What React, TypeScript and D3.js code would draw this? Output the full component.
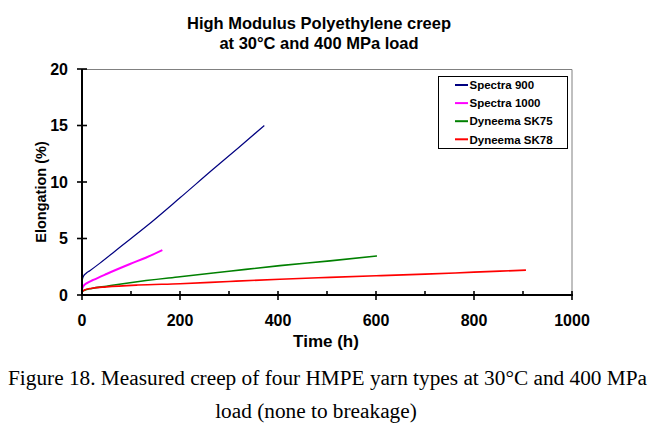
import React from "react";
import * as d3 from "d3";

// creep data: [time (h), elongation (%)]
const spectra900: [number, number][] = [
  [0, 1.1], [1, 1.4], [3, 1.65], [8, 1.9], [16, 2.15], [36, 2.8], [78, 4.25],
  [132, 6.1], [200, 8.6], [268, 11.15], [320, 13.05], [372, 15.0],
];
const spectra1000: [number, number][] = [
  [0, 0.55], [3, 0.8], [10, 1.05], [23, 1.33], [50, 1.86], [98, 2.74],
  [130, 3.3], [164, 3.97],
];
const sk75: [number, number][] = [
  [0, 0.3], [5, 0.42], [20, 0.58], [50, 0.78], [98, 1.09], [200, 1.62],
  [300, 2.1], [404, 2.6], [506, 3.02], [602, 3.45],
];
const sk78: [number, number][] = [
  [0, 0.3], [5, 0.45], [20, 0.6], [50, 0.72], [114, 0.88], [200, 1.0],
  [300, 1.2], [404, 1.4], [506, 1.56], [600, 1.7], [700, 1.85], [800, 2.02],
  [906, 2.2],
];

const seriesNames = ["Spectra 900", "Spectra 1000", "Dyneema SK75", "Dyneema SK78"];
const seriesColors = ["#000080", "#ff00ff", "#008000", "#ff0000"];
const seriesWidths = [1.2, 2, 1.6, 1.6];
const seriesData = [spectra900, spectra1000, sk75, sk78];

const xTicks = [0, 200, 400, 600, 800, 1000];
const xMinorTicks = [100, 300, 500, 700, 900];
const yTicks = [0, 5, 10, 15, 20];

const W = 654;
const H = 427;
const left = 82;
const right = 572;
const top = 69;
const bottom = 295;

export default function App() {
  const x = d3.scaleLinear().domain([0, 1000]).range([left, right]);
  const y = d3.scaleLinear().domain([0, 20]).range([bottom, top]);
  const line = d3
    .line<[number, number]>()
    .x((d) => x(d[0]))
    .y((d) => y(d[1]))
    .curve(d3.curveMonotoneX);

  const sans = "Arial, 'Liberation Sans', sans-serif";
  const serif = "'Liberation Serif', 'Times New Roman', serif";

  return (
    <svg
      width={W}
      height={H}
      style={{ position: "absolute", left: 0, top: 0, background: "#fff" }}
    >
      <rect x={0} y={0} width={W} height={H} fill="#fff" />

      {/* title */}
      <text x={319} y={29} textAnchor="middle" fontFamily={sans} fontWeight="bold" fontSize={16.5}>
        High Modulus Polyethylene creep
      </text>
      <text x={319} y={49} textAnchor="middle" fontFamily={sans} fontWeight="bold" fontSize={16.5}>
        at 30°C and 400 MPa load
      </text>

      {/* plot area border */}
      <path d={`M${left},${top + 0.5}H${right}V${bottom}`} fill="none" stroke="#808080" strokeWidth={1} />

      {/* series */}
      {seriesData.map((d, i) => (
        <path
          key={seriesNames[i]}
          d={line(d) ?? ""}
          fill="none"
          stroke={seriesColors[i]}
          strokeWidth={seriesWidths[i]}
        />
      ))}

      {/* axes */}
      <line x1={left} x2={left} y1={top} y2={bottom + 1} stroke="#000" strokeWidth={2} />
      <line x1={left - 1} x2={right + 1} y1={bottom} y2={bottom} stroke="#000" strokeWidth={2} />

      {yTicks.map((t) => (
        <g key={"y" + t}>
          <line x1={left - 5} x2={left + 5} y1={y(t)} y2={y(t)} stroke="#000" strokeWidth={1.6} />
          <text x={68} y={y(t) + 5.8} textAnchor="end" fontFamily={sans} fontWeight="bold" fontSize={16}>
            {t}
          </text>
        </g>
      ))}

      {xTicks.map((t) => (
        <g key={"x" + t}>
          <line x1={x(t)} x2={x(t)} y1={bottom - 4} y2={bottom + 5} stroke="#000" strokeWidth={1.6} />
          <text x={x(t)} y={326} textAnchor="middle" fontFamily={sans} fontWeight="bold" fontSize={16}>
            {t}
          </text>
        </g>
      ))}
      {xMinorTicks.map((t) => (
        <line key={"m" + t} x1={x(t)} x2={x(t)} y1={bottom - 4} y2={bottom} stroke="#000" strokeWidth={1.6} />
      ))}

      {/* axis titles */}
      <text x={326} y={347} textAnchor="middle" fontFamily={sans} fontWeight="bold" fontSize={17}>
        Time (h)
      </text>
      <text
        transform={`translate(46,${(top + bottom) / 2 + 10}) rotate(-90)`}
        textAnchor="middle"
        fontFamily={sans}
        fontWeight="bold"
        fontSize={14.5}
      >
        Elongation (%)
      </text>

      {/* legend */}
      <rect x={438.5} y={76.5} width={129} height={72} fill="#fff" stroke="#000" strokeWidth={1} />
      {seriesNames.map((n, i) => {
        const ry = 85 + i * 18.1;
        return (
          <g key={"l" + n}>
            <line x1={455} x2={468} y1={ry} y2={ry} stroke={seriesColors[i]} strokeWidth={2} />
            <text x={469.5} y={ry + 4.2} fontFamily={sans} fontWeight="bold" fontSize={11.5}>
              {n}
            </text>
          </g>
        );
      })}

      {/* caption */}
      <text x={8} y={385} fontFamily={serif} fontSize={21.3}>
        Figure 18. Measured creep of four HMPE yarn types at 30°C and 400 MPa
      </text>
      <text x={316} y={418} textAnchor="middle" fontFamily={serif} fontSize={21.3}>
        load (none to breakage)
      </text>
    </svg>
  );
}
